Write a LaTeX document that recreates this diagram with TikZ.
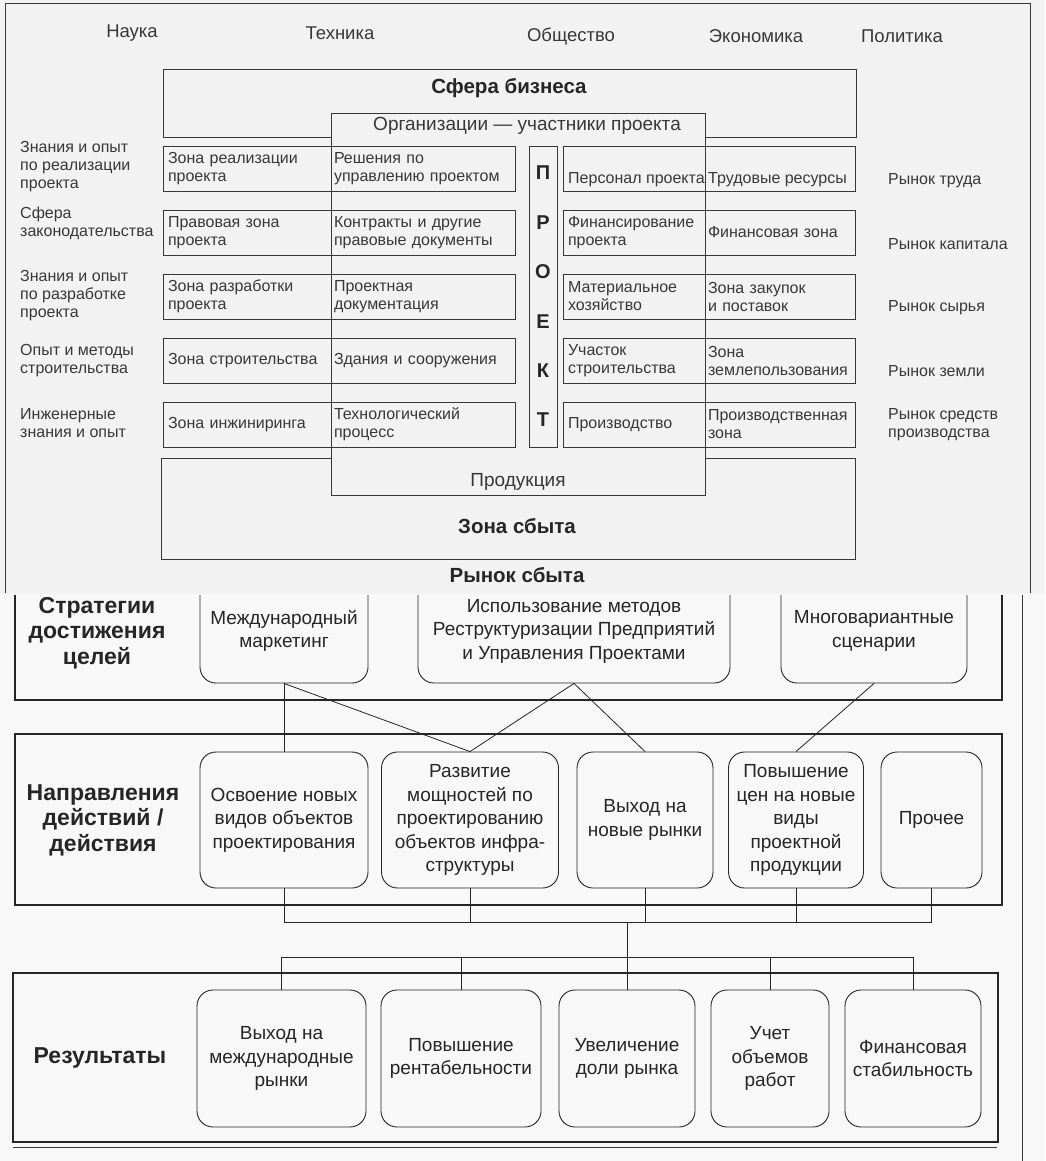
\documentclass[tikz,border=0pt]{standalone}
\usepackage{fontspec}
\setmainfont{Liberation Sans}
\hyphenpenalty=10000
\exhyphenpenalty=10000
\usetikzlibrary{calc}
\definecolor{bgtop}{HTML}{F2F2F2}
\definecolor{bgbot}{HTML}{F8F8F8}
\definecolor{ink}{HTML}{383838}
\definecolor{inkb}{HTML}{262626}
\newcommand\fcell{\fontsize{16}{18}\selectfont}
\newcommand\flab{\fontsize{18.5}{22}\selectfont}
\newcommand\forg{\fontsize{19}{22}\selectfont}
\newcommand\fbld{\fontsize{20.5}{24}\selectfont\bfseries}
\newcommand\fbtext{\fontsize{19}{23.5}\selectfont}
\newcommand\fsect{\fontsize{23}{25.5}\selectfont\bfseries}
\begin{document}
\begin{tikzpicture}[x=1pt,y=-1pt,
  frame/.style={draw=ink, line width=0.8pt},
  zone/.style={draw=ink, line width=0.9pt, fill=bgtop, inner sep=0},
  cell/.style={draw=ink, line width=0.8pt, fill=bgtop, minimum height=45, inner ysep=0, align=left, font=\fcell, text=ink},
  cellA/.style={cell, inner xsep=5, text width=158},
  cellB/.style={cell, inner xsep=3, text width=178},
  cellC/.style={cell, inner xsep=5, text width=132},
  cellD/.style={cell, inner xsep=3, text width=144},
  lab/.style={align=left, font=\fcell, text=ink, anchor=west, inner sep=0},
  toplab/.style={font=\flab, text=ink, inner sep=0},
  boldlab/.style={font=\fbld, text=inkb, inner sep=0},
  prj/.style={draw=ink, line width=0.8pt, fill=bgtop, minimum width=28, minimum height=301, inner sep=0, align=center, font=\fontsize{20}{49.4}\selectfont\bfseries, text=inkb},
  secbox/.style={draw=inkb, line width=1.4pt, inner sep=0},
  rbox/.style={draw=inkb, line width=0.9pt, rounded corners=16pt, align=center, font=\fbtext, text=inkb, inner sep=2pt},
  sect/.style={font=\fsect, text=inkb, align=center, inner sep=0},
  ln/.style={draw=inkb, line width=0.8pt}
]
\useasboundingbox (0,0) rectangle (1045,1161);
\fill[bgtop] (0,0) rectangle (1045,594);
\fill[bgbot] (0,594) rectangle (1045,1161);

% ---------- frames
\draw[frame] (5,593) -- (5,3) -- (1030,3) -- (1030,593);
\draw[frame] (1022,595) -- (1022,1161);

% ---------- top labels
\node[toplab] (nauka) at (132,33) {Наука};
\node[toplab] (tech) at (340,33) {Техника};
\node[toplab] (obsh) at (571,37) {Общество};
\node[toplab] (econ) at (756,36) {Экономика};
\node[toplab] (polit) at (902,36) {Политика};

% ---------- zones
\node[zone, minimum width=693, minimum height=68] (biz) at (509.5,103) {};
\node[zone, minimum width=694, minimum height=101] (sbyt) at (508,508.5) {};
\node[zone, minimum width=374, minimum height=382] (org) at (518,304) {};
\node[boldlab] (bizt) at (509,88) {Сфера бизнеса};
\node[boldlab] (sbytt) at (517,526) {Зона сбыта};
\node[boldlab] (rynok) at (517,575) {Рынок сбыта};
\node[font=\forg, text=ink, inner sep=0] (orgt) at (527,126) {Организации — участники проекта};
\node[font=\forg, text=ink, inner sep=0] (prodt) at (518,482) {Продукция};

% ---------- project column
\node[prj] (proekt) at (543,296.5) {П\\Р\\О\\Е\\К\\Т};

% ---------- row 1
\node[cellA] (a1) at (247,168.5) {Зона реализации\\проекта};
\node[cellB] (b1) at (423,168.5) {Решения по\\управлению проектом};
\node[cellC] (c1) at (634,168.5) {};
\node[cellD] (d1) at (780,168.5) {};
\node[lab] (c1t) at (568,180) {Персонал проекта};
\node[lab] (d1t) at (708,180) {Трудовые ресурсы};
% ---------- row 2
\node[cellA] (a2) at (247,232.5) {Правовая зона\\проекта};
\node[cellB] (b2) at (423,232.5) {Контракты и другие\\правовые документы};
\node[cellC] (c2) at (634,232.5) {Финансирование\\проекта};
\node[cellD] (d2) at (780,232.5) {Финансовая зона};
% ---------- row 3
\node[cellA] (a3) at (247,296.5) {Зона разработки\\проекта};
\node[cellB] (b3) at (423,296.5) {Проектная\\документация};
\node[cellC] (c3) at (634,296.5) {Материальное\\хозяйство};
\node[cellD] (d3) at (780,296.5) {Зона закупок\\и поставок};
% ---------- row 4
\node[cellA] (a4) at (247,360.5) {Зона строительства};
\node[cellB] (b4) at (423,360.5) {Здания и сооружения};
\node[cellC] (c4) at (634,360.5) {Участок\\строительства};
\node[cellD] (d4) at (780,360.5) {Зона\\землепользования};
% ---------- row 5
\node[cellA] (a5) at (247,424.5) {Зона инжиниринга};
\node[cellB] (b5) at (423,424.5) {Технологический\\процесс};
\node[cellC] (c5) at (634,424.5) {Производство};
\node[cellD] (d5) at (780,424.5) {Производственная\\зона};

% ---------- left labels
\node[lab] (l1) at (20,167) {Знания и опыт\\по реализации\\проекта};
\node[lab] (l2) at (20,223) {Сфера\\законодательства};
\node[lab] (l3) at (20,296) {Знания и опыт\\по разработке\\проекта};
\node[lab] (l4) at (20,360.5) {Опыт и методы\\строительства};
\node[lab] (l5) at (20,423) {Инженерные\\знания и опыт};

% ---------- right labels
\node[lab] (r1l) at (888,181) {Рынок труда};
\node[lab] (r2l) at (888,244) {Рынок капитала};
\node[lab] (r3l) at (888,308) {Рынок сырья};
\node[lab] (r4l) at (888,371) {Рынок земли};
\node[lab] (r5l) at (888,425) {Рынок средств\\производства};

% ================= bottom part
\begin{scope}
\clip (0,595) rectangle (1045,1161);
\node[secbox, minimum width=987, minimum height=140] (s1) at (508.5,630) {};
\node[rbox, minimum width=168, minimum height=104] (m1) at (284,631) {Международный\\маркетинг};
\node[rbox, minimum width=312, minimum height=104] (m2) at (574,631) {Использование методов\\Реструктуризации Предприятий\\и Управления Проектами};
\node[rbox, minimum width=186, minimum height=104] (m3) at (874,631) {Многовариантные\\сценарии};
\end{scope}
\node[sect] (s1t) at (97,633) {Стратегии\\достижения\\целей};

\node[secbox, minimum width=987, minimum height=171] (s2) at (508.5,819.5) {};
\node[sect] (s2t) at (103,820) {Направления\\действий /\\действия};
\node[rbox, minimum width=168, minimum height=136] (n1) at (284,820) {Освоение новых\\видов объектов\\проектирования};
\node[rbox, minimum width=177, minimum height=136] (n2) at (470,820) {Развитие\\мощностей по\\проектированию\\объектов инфра-\\структуры};
\node[rbox, minimum width=136, minimum height=136] (n3) at (645,820) {Выход на\\новые рынки};
\node[rbox, minimum width=135, minimum height=136] (n4) at (796,820) {Повышение\\цен на новые\\виды\\проектной\\продукции};
\node[rbox, minimum width=101, minimum height=136] (n5) at (931.5,820) {Прочее};

\node[secbox, minimum width=985, minimum height=169] (s3) at (505.5,1057.5) {};
\node[sect] (s3t) at (100,1058) {Результаты};
\node[rbox, minimum width=169, minimum height=137] (q1) at (281.5,1058.5) {Выход на\\международные\\рынки};
\node[rbox, minimum width=160, minimum height=137] (q2) at (461,1058.5) {Повышение\\рентабельности};
\node[rbox, minimum width=136, minimum height=137] (q3) at (627,1058.5) {Увеличение\\доли рынка};
\node[rbox, minimum width=118, minimum height=137] (q4) at (770,1058.5) {Учет\\объемов\\работ};
\node[rbox, minimum width=136, minimum height=137] (q5) at (913,1058.5) {Финансовая\\стабильность};
\draw[line width=0.6pt, draw=ink] (13,1147) -- (997,1147);

% ---------- connectors
\draw[ln] (m1.south) -- (n1.north);
\draw[ln] (m1.south) -- (n2.north);
\draw[ln] (m2.south) -- (n2.north);
\draw[ln] (m2.south) -- (n3.north);
\draw[ln] (m3.south) -- (n4.north);

\coordinate (busA) at (627,922);
\coordinate (busB) at (627,957);
\draw[ln] (n1.south) |- (busA) -| (n5.south);
\draw[ln] (n2.south) -- (n2.south |- busA);
\draw[ln] (n3.south) -- (n3.south |- busA);
\draw[ln] (n4.south) -- (n4.south |- busA);
\draw[ln] (busA) -- (busB);
\draw[ln] (q1.north) |- (busB) -| (q5.north);
\draw[ln] (q2.north) -- (q2.north |- busB);
\draw[ln] (q3.north) -- (q3.north |- busB);
\draw[ln] (q4.north) -- (q4.north |- busB);
\end{tikzpicture}
\end{document}
